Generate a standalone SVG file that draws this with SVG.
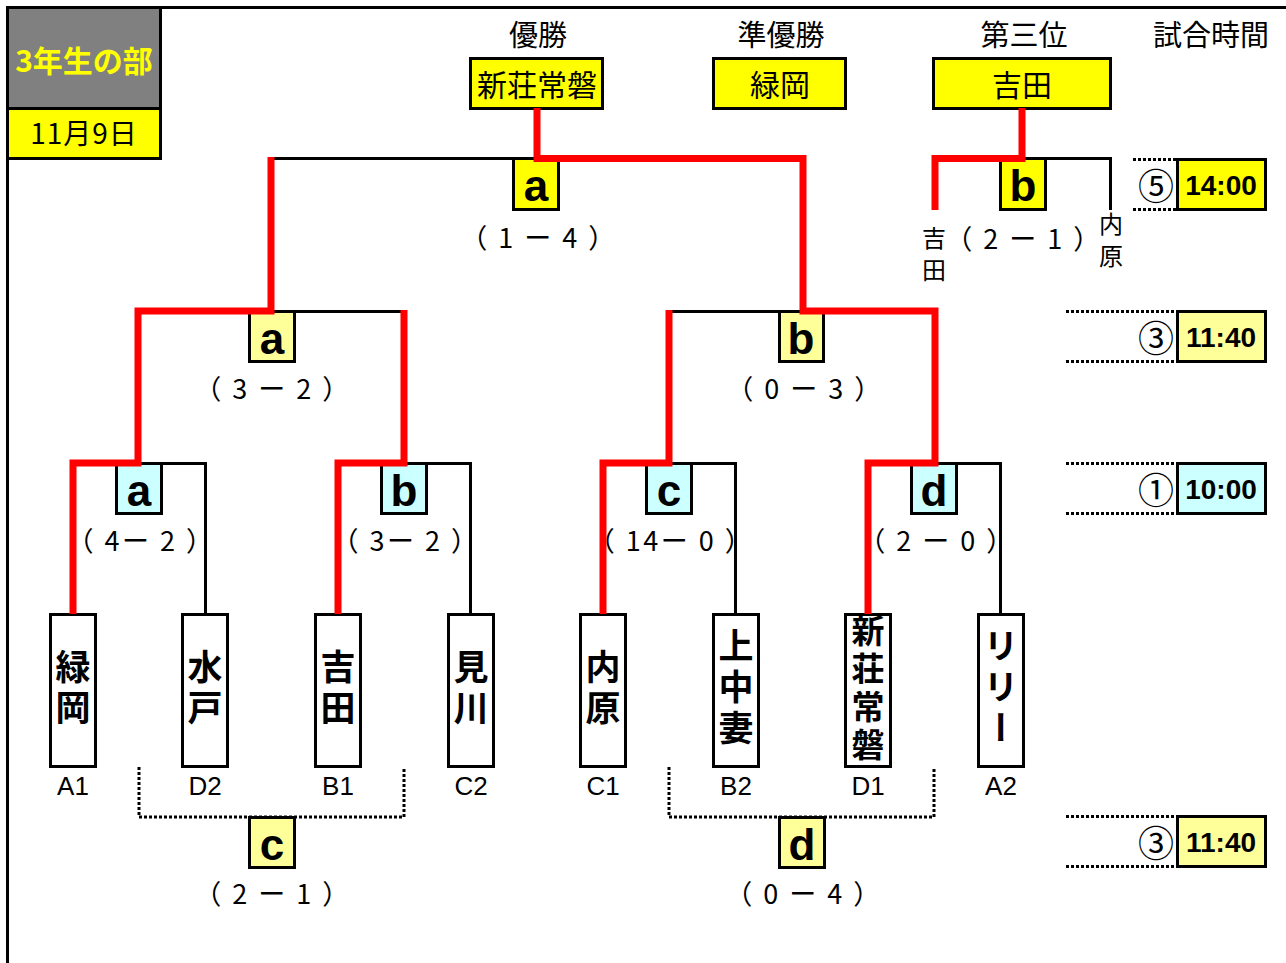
<svg xmlns="http://www.w3.org/2000/svg" width="1286" height="963" viewBox="0 0 1286 963">
<style>
.jp{font-family:"Noto Sans CJK JP","Noto Sans",sans-serif;}
.head{font-size:29px;text-anchor:middle;dominant-baseline:central;fill:#000;}
.win{font-size:30px;text-anchor:middle;dominant-baseline:central;fill:#000;}
.score{font-size:27px;text-anchor:middle;dominant-baseline:central;letter-spacing:2.5px;fill:#000;}
.team{font-size:35px;font-weight:bold;text-anchor:middle;writing-mode:vertical-rl;letter-spacing:6px;fill:#000;}
.small{font-size:24px;text-anchor:middle;writing-mode:vertical-rl;letter-spacing:8px;fill:#000;}
.lbl{font-family:"Liberation Sans",Arial,sans-serif;font-size:26px;text-anchor:middle;fill:#000;}
.let{font-family:"Liberation Sans",Arial,sans-serif;font-size:44px;font-weight:bold;text-anchor:middle;fill:#000;}
.time{font-family:"Liberation Sans",Arial,sans-serif;font-size:28px;font-weight:bold;text-anchor:middle;dominant-baseline:central;fill:#000;}
.circ{font-size:36px;text-anchor:end;dominant-baseline:central;fill:#000;}
.box{stroke:#000;stroke-width:3;}
.y{fill:#FFFF00;}
.ly{fill:#FFFF99;}
.cy{fill:#CCFFFF;}
.w{fill:#FFFFFF;}
.blk{fill:none;stroke:#000;stroke-width:3;}
.red{fill:none;stroke:#FF0000;stroke-width:7;stroke-linejoin:miter;}
.dot{fill:none;stroke:#000;stroke-width:3;stroke-dasharray:3 2;}
</style>
<rect width="1286" height="963" fill="#FFFFFF"/>
<g id="frame">
<path d="M6,7.5 H1286 M7.5,6 V963" fill="none" stroke="#000" stroke-width="3"/>
</g>
<g id="header">
<rect x="7.5" y="7.5" width="153" height="101" fill="#808080" class="box"/>
<rect x="7.5" y="108.5" width="153" height="50" class="box y"/>
<text x="84" y="59" class="jp" font-size="30" font-weight="bold" fill="#FFFF00" text-anchor="middle" dominant-baseline="central">3年生の部</text>
<text x="84" y="132" class="jp" font-size="28" fill="#000" text-anchor="middle" dominant-baseline="central" letter-spacing="1">11月9日</text>
</g>
<g id="headings">
<text x="538" y="33" class="jp head">優勝</text>
<text x="781" y="33" class="jp head">準優勝</text>
<text x="1024" y="33" class="jp head">第三位</text>
<text x="1211" y="33" class="jp head">試合時間</text>
</g>
<g id="winner">
<rect x="470.5" y="58.5" width="132" height="50" class="box y"/>
<text x="537" y="83" class="jp win">新荘常磐</text>
</g>
<g id="runnerup">
<rect x="713.5" y="58.5" width="132" height="50" class="box y"/>
<text x="780" y="83" class="jp win">緑岡</text>
</g>
<g id="third">
<rect x="933.5" y="58.5" width="177" height="50" class="box y"/>
<text x="1022" y="83" class="jp win">吉田</text>
</g>
<g id="match-final">
<rect x="513.5" y="158.5" width="45" height="51" class="box y"/>
<text x="536" y="201" class="let">a</text>
<text x="539" y="236" class="jp score">（ 1 ー 4 ）</text>
</g>
<g id="match-third">
<rect x="1000.5" y="158.5" width="45" height="51" class="box y"/>
<text x="1023" y="201" class="let">b</text>
<text x="1024" y="237" class="jp score">（ 2 ー 1 ）</text>
<text x="934" y="258" class="jp small">吉田</text>
<text x="1111" y="244" class="jp small">内原</text>
</g>
<g id="match-sf-a">
<rect x="249.5" y="311.5" width="45" height="50" class="box ly"/>
<text x="272" y="354" class="let">a</text>
<text x="273" y="387" class="jp score">（ 3 ー 2 ）</text>
</g>
<g id="match-sf-b">
<rect x="779.5" y="311.5" width="44" height="50" class="box ly"/>
<text x="801" y="354" class="let">b</text>
<text x="805" y="387" class="jp score">（ 0 ー 3 ）</text>
</g>
<g id="match-qf-a">
<rect x="116.5" y="463.5" width="45" height="50" class="box cy"/>
<text x="139" y="506" class="let">a</text>
<text x="141" y="539" class="jp score">（ 4ー 2 ）</text>
</g>
<g id="match-qf-b">
<rect x="381.5" y="463.5" width="45" height="50" class="box cy"/>
<text x="404" y="506" class="let">b</text>
<text x="406" y="539" class="jp score">（ 3ー 2 ）</text>
</g>
<g id="match-qf-c">
<rect x="646.5" y="463.5" width="45" height="50" class="box cy"/>
<text x="669" y="506" class="let">c</text>
<text x="671" y="539" class="jp score">（ 14ー 0 ）</text>
</g>
<g id="match-qf-d">
<rect x="911.5" y="463.5" width="45" height="50" class="box cy"/>
<text x="934" y="506" class="let">d</text>
<text x="937" y="539" class="jp score">（ 2 ー 0 ）</text>
</g>
<g id="match-c">
<rect x="249.5" y="817.5" width="45" height="50" class="box ly"/>
<text x="272" y="860" class="let">c</text>
<text x="273" y="892" class="jp score">（ 2 ー 1 ）</text>
</g>
<g id="match-d">
<rect x="779.5" y="817.5" width="45" height="50" class="box ly"/>
<text x="802" y="860" class="let">d</text>
<text x="804" y="892" class="jp score">（ 0 ー 4 ）</text>
</g>
<g id="team-A1">
<rect x="50.5" y="614.5" width="45" height="152" class="box w"/>
<text x="73" y="690" class="jp team">緑岡</text>
<text x="73" y="795" class="lbl">A1</text>
</g>
<g id="team-D2">
<rect x="182.5" y="614.5" width="45" height="152" class="box w"/>
<text x="205" y="690" class="jp team">水戸</text>
<text x="205" y="795" class="lbl">D2</text>
</g>
<g id="team-B1">
<rect x="315.5" y="614.5" width="45" height="152" class="box w"/>
<text x="338" y="690" class="jp team">吉田</text>
<text x="338" y="795" class="lbl">B1</text>
</g>
<g id="team-C2">
<rect x="448.5" y="614.5" width="45" height="152" class="box w"/>
<text x="471" y="690" class="jp team">見川</text>
<text x="471" y="795" class="lbl">C2</text>
</g>
<g id="team-C1">
<rect x="580.5" y="614.5" width="45" height="152" class="box w"/>
<text x="603" y="690" class="jp team">内原</text>
<text x="603" y="795" class="lbl">C1</text>
</g>
<g id="team-B2">
<rect x="713.5" y="614.5" width="45" height="152" class="box w"/>
<text x="736" y="690" class="jp team">上中妻</text>
<text x="736" y="795" class="lbl">B2</text>
</g>
<g id="team-D1">
<rect x="845.5" y="614.5" width="45" height="152" class="box w"/>
<text x="868" y="690" class="jp team" style="font-size:33px;letter-spacing:5px">新荘常磐</text>
<text x="868" y="795" class="lbl">D1</text>
</g>
<g id="team-A2">
<rect x="978.5" y="614.5" width="45" height="152" class="box w"/>
<text x="1001" y="690" class="jp team">リリー</text>
<text x="1001" y="795" class="lbl">A2</text>
</g>
<g id="times">
<rect x="1177.5" y="159.5" width="88" height="50" class="box y"/>
<text x="1221" y="185" class="time">14:00</text>
<text x="1174" y="184" class="jp circ">⑤</text>
<rect x="1177.5" y="311.5" width="88" height="50" class="box ly"/>
<text x="1221" y="337" class="time">11:40</text>
<text x="1174" y="336" class="jp circ">③</text>
<rect x="1177.5" y="463.5" width="88" height="50" class="box cy"/>
<text x="1221" y="489" class="time">10:00</text>
<text x="1174" y="488" class="jp circ">①</text>
<rect x="1177.5" y="816.5" width="88" height="50" class="box ly"/>
<text x="1221" y="842" class="time">11:40</text>
<text x="1174" y="841" class="jp circ">③</text>
</g>
<g id="connectors">
<path class="blk" d="M271,158.5 H537 M271,311.5 H404 M669,311.5 H803 M138,463.5 H205.5 V614 M404,463.5 H470.5 V614 M669,463.5 H735.5 V614 M935,463.5 H1000.5 V614 M1022,158.5 H1110.5 V210"/>
<path class="red" d="M537,108 V158.5 H803 V311 H935 V463 H868 V614"/>
<path class="red" d="M271,157 V311 H138 V463 H73 V614"/>
<path class="red" d="M404,310 V463 H338 V614"/>
<path class="red" d="M669,310 V463 H603 V614"/>
<path class="red" d="M1022,108 V158.5 H935 V210"/>
<path class="dot" d="M139,767 V817 H404 V767 M669,767 V817 H934 V767"/>
<path class="dot" d="M1133,159.5 H1177 M1133,209.5 H1177 M1066,311.5 H1177 M1066,361.5 H1177 M1066,463.5 H1177 M1066,513.5 H1177 M1066,816.5 H1177 M1066,866.5 H1177"/>
</g>
</svg>
